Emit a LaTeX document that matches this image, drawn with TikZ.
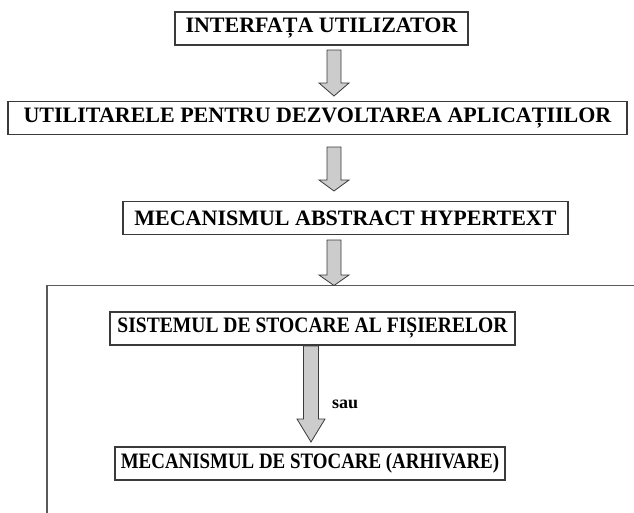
\documentclass[tikz,border=0pt]{standalone}
\usepackage{fontspec}
\usepackage{graphicx}
\setmainfont{Liberation Serif}
\usetikzlibrary{calc}
\definecolor{linec}{HTML}{3A3A3A}
\definecolor{framec}{HTML}{5A5A5A}
\definecolor{arrfill}{HTML}{CCCCCC}
\tikzset{
  box/.style={draw=linec, line width=1.1pt, inner sep=0pt, minimum height=33pt,
    font=\fontsize{22}{24}\selectfont\bfseries, text=black},
  barrow/.style={draw=linec, fill=arrfill, line width=0.8pt, line join=miter},
  lbl/.style={font=\fontsize{18}{20}\selectfont\bfseries, inner sep=0pt, anchor=west},
}
% block arrow: #1 start coord, #2 tip coord, #3 half shaft, #4 half head, #5 head length
\newcommand{\blockarr}[5]{%
  \path[barrow] let \p1=(#1), \p2=(#2) in
    (\x1-#3,\y1) -- (\x1+#3,\y1) -- (\x1+#3,\y2+#5) -- (\x1+#4,\y2+#5) --
    (\x2,\y2) -- (\x1-#4,\y2+#5) -- (\x1-#3,\y2+#5) -- cycle;}
\begin{document}
\begin{tikzpicture}[x=1pt,y=1pt]
\useasboundingbox (0,0) rectangle (634,-512);
% outer open frame
\coordinate (fr) at (640,-285.5);
\coordinate (fc) at (47,-285.5);
\coordinate (fb) at (47,-520);
\draw[draw=framec, line width=1.1pt] (fr) -- (fc) -- (fb);

\node[box, minimum width=293] (b1) at (321.5,-28.5) {INTERFAȚA UTILIZATOR};
\node[box, minimum width=619] (b2) at (317.5,-118) {UTILITARELE PENTRU DEZVOLTAREA APLICAȚIILOR};
\node[box, minimum width=445] (b3) at (345.5,-218) {MECANISMUL ABSTRACT HYPERTEXT};
\node[box, minimum width=405] (b4) at (312.5,-328.5) {\scalebox{0.89}[1]{SISTEMUL DE STOCARE AL FIȘIERELOR}};
\node[box, minimum width=390] (b5) at (310,-463.5) {\scalebox{0.86}[1]{MECANISMUL DE STOCARE (ARHIVARE)}};

\coordinate (a1s) at (334,-50);
\coordinate (a1e) at (334,-96);
\coordinate (a2s) at (334,-147);
\coordinate (a2e) at (334,-191);
\coordinate (a3s) at (334,-240);
\coordinate (a3e) at (334,-285.5);
\coordinate (a4s) at (311,-346);
\coordinate (a4e) at (311,-442);

\blockarr{a1s}{a1e}{7pt}{15pt}{13pt}
\blockarr{a2s}{a2e}{7pt}{15pt}{11pt}
\blockarr{a3s}{a3e}{7pt}{15pt}{10.5pt}
\blockarr{a4s}{a4e}{7.5pt}{14pt}{23pt}

\node[lbl] (sau) at (332,-404) {sau};
\end{tikzpicture}
\end{document}
